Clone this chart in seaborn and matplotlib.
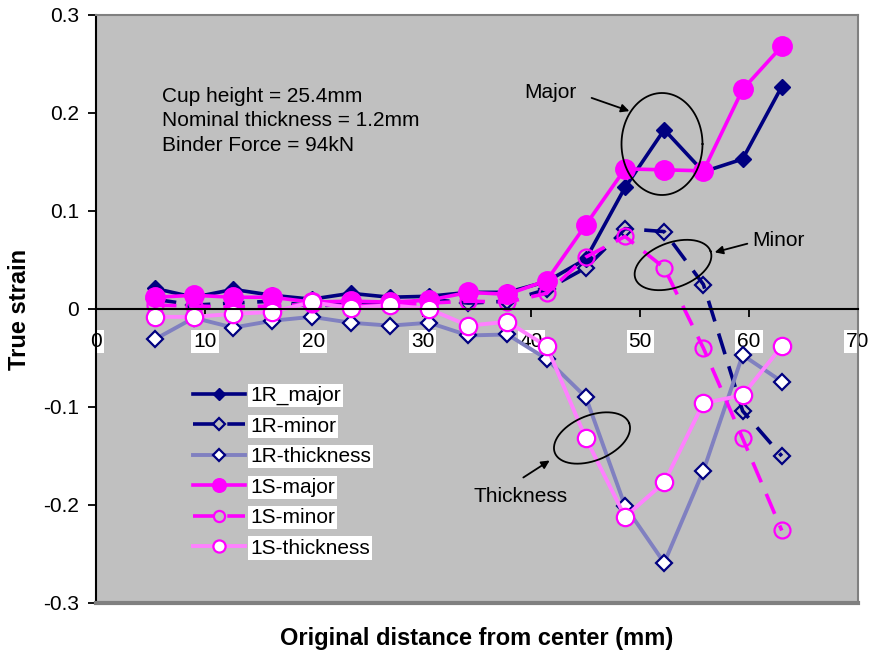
import numpy as np
import pandas as pd
import matplotlib
matplotlib.use("Agg")
import matplotlib.pyplot as plt
import seaborn as sns

# ---------------- data ----------------
distance = [5.4, 9.0, 12.6, 16.2, 19.8, 23.4, 27.0, 30.6, 34.2, 37.8,
            41.4, 45.0, 48.6, 52.2, 55.8, 59.4, 63.0]
r_major = [0.021, 0.012, 0.020, 0.014, 0.010, 0.016, 0.012, 0.013, 0.017, 0.017,
           0.028, 0.051, 0.124, 0.183, 0.140, 0.153, 0.227]
r_minor = [0.010, 0.004, 0.006, 0.008, 0.003, 0.005, 0.004, 0.010, 0.006, 0.008,
           0.020, 0.042, 0.082, 0.079, 0.025, -0.104, -0.150]
r_thick = [-0.031, -0.009, -0.019, -0.012, -0.008, -0.014, -0.017, -0.014, -0.027, -0.026,
           -0.051, -0.090, -0.201, -0.259, -0.165, -0.047, -0.074]
s_major = [0.012, 0.014, 0.012, 0.012, 0.007, 0.008, 0.007, 0.009, 0.017, 0.015,
           0.029, 0.086, 0.143, 0.142, 0.141, 0.224, 0.268]
s_minor = [0.004, 0.003, 0.002, 0.003, 0.005, 0.003, 0.004, 0.006, 0.008, 0.007,
           0.016, 0.053, 0.074, 0.042, -0.040, -0.132, -0.226]
s_thick = [-0.008, -0.008, -0.005, -0.003, 0.007, 0.001, 0.004, 0.000, -0.017, -0.013,
           -0.038, -0.132, -0.212, -0.177, -0.096, -0.088, -0.038]

labels = ["1R_major", "1R-minor", "1R-thickness", "1S-major", "1S-minor", "1S-thickness"]
x_ticks = [0, 10, 20, 30, 40, 50, 60, 70]
y_ticks = [-0.3, -0.2, -0.1, 0.0, 0.1, 0.2, 0.3]
y_tick_labels = ["-0.3", "-0.2", "-0.1", "0", "0.1", "0.2", "0.3"]

# ---------------- style ----------------
plt.rcParams["font.family"] = ["Liberation Sans", "DejaVu Sans"]
plt.rcParams["axes.unicode_minus"] = False

NAVY = "#000080"
MAG = "#FF00FF"
R_TH = "#8080C0"
S_TH = "#FF80FF"
DASH = (0, (6, 3.5))

styles = [
    dict(color=NAVY, marker="D", markersize=8.5, markerfacecolor=NAVY, markeredgecolor=NAVY,
         markeredgewidth=1.0, linewidth=2.6, linestyle="-"),
    dict(color=NAVY, marker="D", markersize=8.5, markerfacecolor="none", markeredgecolor=NAVY,
         markeredgewidth=1.6, linewidth=2.6, linestyle=DASH),
    dict(color=R_TH, marker="D", markersize=8.5, markerfacecolor="white", markeredgecolor=NAVY,
         markeredgewidth=1.6, linewidth=2.8, linestyle="-"),
    dict(color=MAG, marker="o", markersize=14, markerfacecolor=MAG, markeredgecolor=MAG,
         markeredgewidth=1.0, linewidth=2.6, linestyle="-"),
    dict(color=MAG, marker="o", markersize=11.5, markerfacecolor="none", markeredgecolor=MAG,
         markeredgewidth=1.6, linewidth=2.6, linestyle=DASH),
    dict(color=S_TH, marker="o", markersize=12.5, markerfacecolor="white", markeredgecolor=MAG,
         markeredgewidth=1.6, linewidth=2.8, linestyle="-"),
]
series_vals = [r_major, r_minor, r_thick, s_major, s_minor, s_thick]

fig = plt.figure(figsize=(8.73, 6.57), dpi=100)
W, H = 873, 657
ax = fig.add_axes([96 / W, 54 / H, 762 / W, 588 / H])
ax.set_facecolor("#C0C0C0")

for lab, vals, st in zip(labels, series_vals, styles):
    df = pd.DataFrame({"distance": distance, "strain": vals})
    sns.lineplot(data=df, x="distance", y="strain", ax=ax, label=lab,
                 sort=False, estimator=None, **st)

ax.set_xlim(0, 70)
ax.set_ylim(-0.3, 0.3)

# axes / spines
ax.spines["bottom"].set_position(("data", 0))
ax.spines["bottom"].set_color("black")
ax.spines["bottom"].set_linewidth(1.5)
ax.spines["left"].set_color("black")
ax.spines["left"].set_linewidth(1.5)
for s in ("top", "right"):
    ax.spines[s].set_color("#808080")
    ax.spines[s].set_linewidth(1.5)
ax.axhline(-0.3, color="#808080", lw=3, clip_on=False, zorder=5)

ax.set_xticks(x_ticks)
ax.set_xticklabels([str(v) for v in x_ticks])
ax.set_yticks(y_ticks)
ax.set_yticklabels(y_tick_labels)
ax.tick_params(axis="x", direction="out", length=6, width=1.3, pad=10.5, labelsize=15)
ax.tick_params(axis="y", direction="out", length=6, width=1.3, pad=6, labelsize=15)
for t in ax.get_xticklabels():
    t.set_bbox(dict(facecolor="white", edgecolor="none", pad=1.5))

ax.set_xlabel("")
ax.set_ylabel("")
fig.text(477 / W, 1 - 638 / H, "Original distance from center (mm)", ha="center", va="center",
         fontsize=17, fontweight="bold")
fig.text(20 / W, 1 - 309 / H, "True strain", ha="center", va="center", rotation=90,
         fontsize=17, fontweight="bold")

# legend
leg = ax.legend(loc="upper left", bbox_to_anchor=((193 - 96) / 762, (603 - 386) / 588),
                frameon=False, fontsize=15, handlelength=2.5, handletextpad=0.25,
                labelspacing=0.55, borderpad=0, borderaxespad=0, markerscale=0.7)
for t in leg.get_texts():
    t.set_bbox(dict(facecolor="white", edgecolor="none", pad=1.5))

# ---------------- annotations ----------------
PX_X = 762 / 70.0      # px per mm
PX_Y = 588 / 0.6       # px per strain unit


def px2data(px, py):
    return (px - 96) / PX_X, (309 - py) / PX_Y


def ellipse(cx, cy, w, h, ang):
    t = np.linspace(0, 2 * np.pi, 200)
    a, b = w / 2, h / 2
    th = np.deg2rad(ang)
    dx = a * np.cos(t) * np.cos(th) - b * np.sin(t) * np.sin(th)
    dy = a * np.cos(t) * np.sin(th) + b * np.sin(t) * np.cos(th)
    xs = (cx + dx - 96) / PX_X
    ys = (309 - cy + dy) / PX_Y
    ax.plot(xs, ys, color="black", lw=1.3, zorder=6)


ax.text(*px2data(162, 121), "Cup height = 25.4mm\nNominal thickness = 1.2mm\nBinder Force = 94kN",
        ha="left", va="center", fontsize=15, linespacing=1.34)

ax.text(*px2data(524, 92), "Major", ha="left", va="center", fontsize=15)
ax.annotate("", xy=px2data(632, 112), xytext=px2data(589, 97),
            arrowprops=dict(arrowstyle="-|>", color="black", lw=1.3, mutation_scale=12))
ellipse(662, 144, 81, 102, 0)

ax.text(*px2data(752, 240), "Minor", ha="left", va="center", fontsize=15)
ax.annotate("", xy=px2data(712, 253), xytext=px2data(750, 243),
            arrowprops=dict(arrowstyle="-|>", color="black", lw=1.3, mutation_scale=12))
ellipse(673, 265, 80, 45, 20)

ax.text(*px2data(473, 497), "Thickness", ha="left", va="center", fontsize=15)
ax.annotate("", xy=px2data(552, 459), xytext=px2data(521, 479),
            arrowprops=dict(arrowstyle="-|>", color="black", lw=1.3, mutation_scale=12))
ellipse(592, 438, 80, 45, 22)

fig.savefig("out.png", dpi=100, facecolor="white")
